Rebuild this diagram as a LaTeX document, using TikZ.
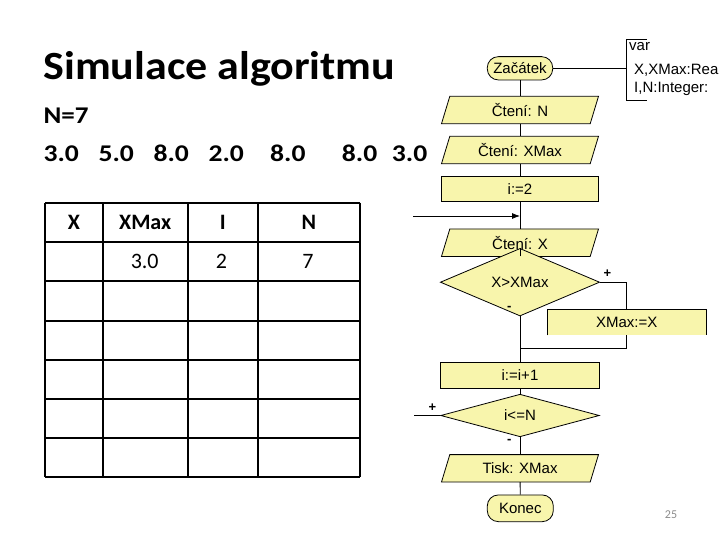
\documentclass[tikz,border=0pt]{standalone}
\usepackage{fontspec}
\setmainfont{Carlito}
\newfontfamily\arialf{Liberation Sans}
\usetikzlibrary{shapes.geometric,arrows.meta,backgrounds}
\pgfdeclarelayer{paper}
\pgfsetlayers{paper,background,main}
\definecolor{fcyellow}{RGB}{248,245,172}
\definecolor{pgnum}{RGB}{140,140,140}
\begin{document}
\begin{tikzpicture}[x=1pt,y=-1pt,
  fc/.style={font=\arialf\fontsize{15}{17}\selectfont, inner sep=0pt},
  term/.style={fc, draw, fill=fcyellow, rounded corners=11pt, line width=0.8pt},
  proc/.style={fc, draw, fill=fcyellow, line width=0.8pt},
  io/.style={fc, minimum width=148.3pt, minimum height=27pt},
  iofill/.style={draw, fill=fcyellow, line width=0.8pt},
  dec/.style={fc, draw, fill=fcyellow, diamond, line width=0.8pt},
  conn/.style={line width=0.8pt},
  sgn/.style={font=\arialf\bfseries\fontsize{13}{15}\selectfont, inner sep=0pt},
  vartxt/.style={font=\arialf\fontsize{15}{17}\selectfont, inner sep=0pt, anchor=west},
  tline/.style={line width=2pt},
  thead/.style={font=\bfseries\fontsize{22}{26}\selectfont, inner sep=0pt},
  tcell/.style={font=\fontsize{22}{26}\selectfont, inner sep=0pt},
  bigtxt/.style={font=\bfseries\fontsize{24}{28}\selectfont, inner sep=0pt, anchor=base west, xscale=1.15, transform shape}
]
\useasboundingbox (0,0) rectangle (720,540);
\begin{pgfonlayer}{paper}
\fill[white] (0,0) rectangle (720,540);
\end{pgfonlayer}
\clip (0,0) rectangle (720,540);

% ---- titles
\node[font=\bfseries\fontsize{40}{46}\selectfont, inner sep=0pt, anchor=base west, xscale=1.1, transform shape] (title) at (43.3,79.3) {Simulace algoritmu};
\node[bigtxt, xscale=0.98] (nn) at (43.3,123.3) {N=7};
\node[bigtxt] (v1) at (43.3,161.7) {3.0};
\node[bigtxt] (v2) at (98.3,161.7) {5.0};
\node[bigtxt] (v3) at (153.3,161.7) {8.0};
\node[bigtxt] (v4) at (208.3,161.7) {2.0};
\node[bigtxt] (v5) at (270,161.7) {8.0};
\node[bigtxt] (v6) at (341.7,161.7) {8.0};
\node[bigtxt] (v7) at (391.7,161.7) {3.0};

% ---- table
\foreach \yy in {202.7,241.7,280.7,320.7,360,399.3,438.3,477.3}
  \draw[tline] (45,\yy) -- (360,\yy);
\foreach \xx in {45,102.7,187.7,257.7,360}
  \draw[tline] (\xx,202.7) -- (\xx,477.3);
\node[thead] (hx) at (73.9,222.2) {X};
\node[thead] (hxm) at (145.2,222.2) {XMax};
\node[thead] (hi) at (222.7,222.2) {I};
\node[thead] (hn) at (308.9,222.2) {N};
\node[tcell] (cxm) at (144.7,261.2) {3.0};
\node[tcell] (ci) at (221.5,261.2) {2};
\node[tcell] (cn) at (308,261.2) {7};

% ---- flowchart nodes
\node[term, minimum width=65.4pt, minimum height=23.3pt] (zac) at (520,68.3) {Začátek};
\node[io] (rn) at (520,110) {Čtení: N};
\node[io] (rx) at (520,150) {Čtení: XMax};
\node[proc, minimum width=156.6pt, minimum height=25pt] (i2) at (520,189.2) {i:=2};
\node[io] (rcx) at (520,242.7) {Čtení: X};
\node[dec, minimum width=159.3pt, minimum height=41pt] (d1) at (520,282.2) {X>XMax};
\node[fc, fill=fcyellow, minimum width=158.3pt, minimum height=25.7pt] (xm) at (626.7,322.2) {XMax:=X};
\node[proc, minimum width=158.6pt, minimum height=25.6pt] (i1) at (520,375.5) {i:=i+1};
\node[dec, minimum width=158.6pt, minimum height=39pt] (d2) at (520,415.5) {i<=N};
\node[io] (tisk) at (520,468.3) {Tisk: XMax};
\node[term, minimum width=66pt, minimum height=26.7pt] (kon) at (520.3,508.3) {Konec};

\begin{scope}[on background layer]
\foreach \n in {rn,rx,rcx,tisk}
  \draw[iofill] ([xshift=-4.15pt]\n.south west) -- ([xshift=4.15pt]\n.north west)
     -- ([xshift=4.15pt]\n.north east) -- ([xshift=-4.15pt]\n.south east) -- cycle;
\end{scope}
\draw[conn] (xm.south west) -- (xm.north west) -- (xm.north east) -- (xm.south east);

% ---- connectors
\draw[conn] (zac) -- (rn);
\draw[conn] (rn) -- (rx);
\draw[conn] (rx) -- (i2);
\draw[conn] (i2) -- (rcx);
\draw[conn] (rcx) -- (d1);
\draw[conn] (d1) -- (i1);
\draw[conn] (d1.east) -| (xm.north);
\coordinate (jn) at (520,348.3);
\draw[conn] (xm.south) |- (jn);
\draw[conn] (i1) -- (d2);
\draw[conn] (d2) -- (tisk);
\draw[conn] (tisk) -- (kon);
\coordinate (loopend) at (414,415.5);
\draw[conn] (d2.west) -- (loopend);
\coordinate (loopin) at (413,216);
\coordinate (jin) at (520,216);
\draw[conn, -{Latex[length=8pt,width=6pt]}] (loopin) -- (jin);

% ---- declarations bracket
\coordinate (bt) at (647,39.3);
\coordinate (btl) at (626.7,39.3);
\coordinate (bbl) at (626.7,100.7);
\coordinate (bb) at (647,100.7);
\draw[conn] (zac.east) -- (zac.east -| btl);
\draw[conn] (bt) -- (btl) -- (bbl) -- (bb);
\node[vartxt] (var) at (629,46.7) {var};
\node[vartxt] (var1) at (634,70) {X,XMax:Rea};
\node[vartxt] (var2) at (634,89.3) {I,N:Integer:};

% ---- signs
\node[sgn] (p1) at (607.3,274) {+};
\node[sgn] (m1) at (509.3,308) {-};
\node[sgn] (p2) at (432.3,407.3) {+};
\node[sgn] (m2) at (509.3,441) {-};

% ---- page number
\node[font=\fontsize{12}{14}\selectfont, text=pgnum, inner sep=0pt] (pg) at (671,515) {25};
\end{tikzpicture}
\end{document}
